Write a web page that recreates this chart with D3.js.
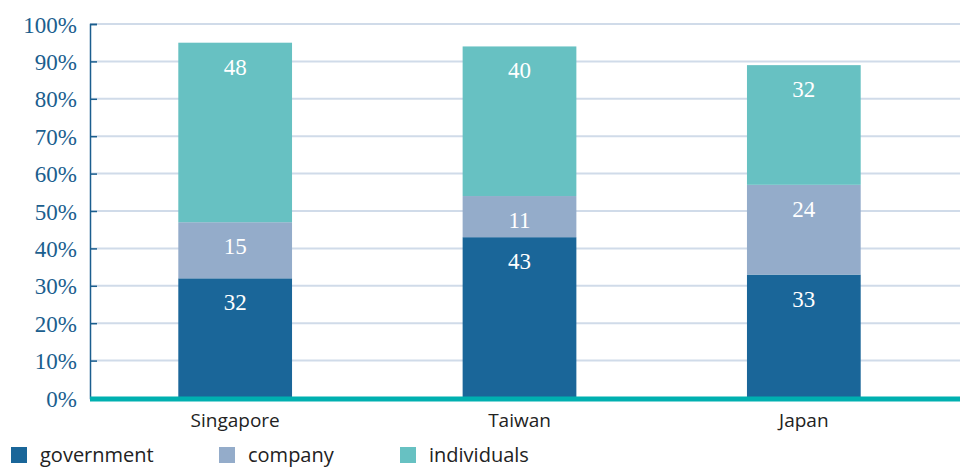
<!DOCTYPE html>
<html>
<head>
  <meta charset="utf-8">
  <script src="https://cdn.jsdelivr.net/npm/d3@7"></script>
  <style>
    body { margin: 0; background: #fff; }
    .y.axis text { font-family: "Liberation Serif", "DejaVu Serif", serif; font-size: 23px; fill: #1b5e8e; }
    .x.axis text { font-family: "Open Sans", "Noto Sans", sans-serif; font-size: 19px; fill: #222; }
    .seg-label { font-family: "Liberation Serif", serif; font-size: 23px; fill: #fff; text-anchor: middle; }
    .legend text { font-family: "Open Sans", "Noto Sans", sans-serif; font-size: 20px; fill: #222; }
  </style>
</head>
<body>
  <script>
    var countries = ["Singapore", "Taiwan", "Japan"];
    var series = ["government", "company", "individuals"];
    var government = [32, 43, 33];
    var company = [15, 11, 24];
    var individuals = [48, 40, 32];
    var yTicks = [0, 10, 20, 30, 40, 50, 60, 70, 80, 90, 100];
    var colors = ["#1a6699", "#94acca", "#67c1c2"];

    var width = 960, height = 470;
    var axisX = 90, y0 = 398, y100 = 24;

    var rows = countries.map(function(c, i) {
      return { country: c, government: government[i], company: company[i], individuals: individuals[i] };
    });
    var stacked = d3.stack().keys(series)(rows);

    var svg = d3.select("body").append("svg")
      .attr("width", width)
      .attr("height", height);

    var y = d3.scaleLinear().domain([0, 100]).range([y0, y100]);
    var x = d3.scaleBand().domain(countries).range([93, 946])
      .paddingInner(0.6).paddingOuter(0.3);

    // gridlines
    svg.append("g").selectAll("line")
      .data(yTicks.filter(function(d) { return d > 0; }))
      .enter().append("line")
      .attr("x1", axisX).attr("x2", width)
      .attr("y1", function(d) { return y(d); })
      .attr("y2", function(d) { return y(d); })
      .attr("stroke", "#d0dbe9")
      .attr("stroke-width", 2);

    var yAxis = svg.append("g")
      .attr("class", "y axis")
      .attr("transform", "translate(" + axisX + ",0)")
      .call(d3.axisRight(y).tickValues(yTicks).tickSize(7).tickFormat(function(d) { return d + "%"; }));
    yAxis.select(".domain").attr("stroke", "#1b5e8e").attr("stroke-width", 1.5);
    yAxis.selectAll(".tick line").attr("stroke", "#1b5e8e").attr("stroke-width", 1.5);
    yAxis.selectAll(".tick text")
      .attr("x", -13)
      .attr("dy", "0.35em")
      .style("text-anchor", "end");

    var layers = svg.append("g").selectAll("g")
      .data(stacked)
      .enter().append("g")
      .attr("fill", function(d, i) { return colors[i]; });

    layers.selectAll("rect")
      .data(function(d) { return d; })
      .enter().append("rect")
      .attr("x", function(d) { return x(d.data.country); })
      .attr("width", x.bandwidth())
      .attr("y", function(d) { return y(d[1]); })
      .attr("height", function(d) { return y(d[0]) - y(d[1]); });

    layers.selectAll("text")
      .data(function(d) { return d; })
      .enter().append("text")
      .attr("class", "seg-label")
      .attr("x", function(d) { return x(d.data.country) + x.bandwidth() / 2; })
      .attr("y", function(d) { return y(d[1]) + 32; })
      .text(function(d) { return d[1] - d[0]; });

    // baseline
    svg.append("line")
      .attr("x1", axisX).attr("x2", width)
      .attr("y1", y0 + 1).attr("y2", y0 + 1)
      .attr("stroke", "#00b0b0")
      .attr("stroke-width", 5);

    var xAxis = svg.append("g")
      .attr("class", "x axis")
      .attr("transform", "translate(0," + (y0 + 4) + ")")
      .call(d3.axisBottom(x).tickSize(0).tickPadding(12));
    xAxis.select(".domain").remove();

    var legendX = [11, 219, 400];
    var legend = svg.append("g").attr("class", "legend")
      .selectAll("g")
      .data(series)
      .enter().append("g")
      .attr("transform", function(d, i) { return "translate(" + legendX[i] + ",447)"; });
    legend.append("rect")
      .attr("width", 16).attr("height", 16)
      .attr("fill", function(d, i) { return colors[i]; });
    legend.append("text")
      .attr("x", 29).attr("y", 15)
      .text(function(d) { return d; });
  </script>
</body>
</html>
